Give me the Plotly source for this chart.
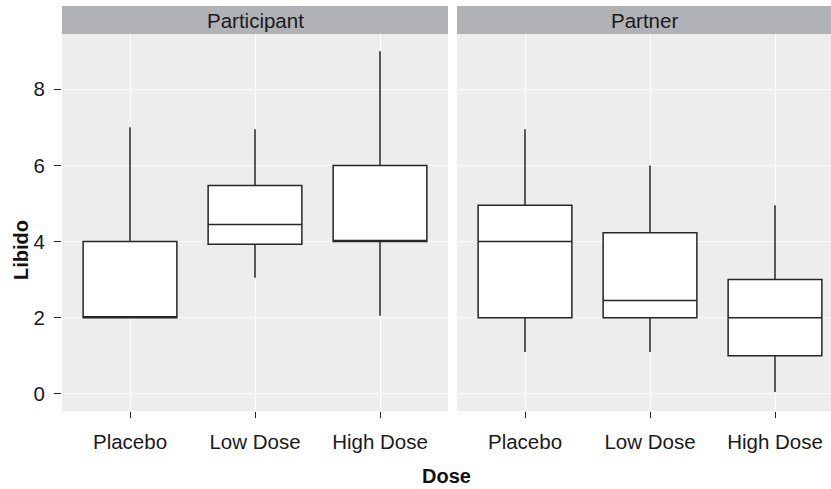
import plotly.graph_objects as go

doses = ["Placebo", "Low Dose", "High Dose"]
panels = ["Participant", "Partner"]

# five-number summaries
part_low = [2.0, 3.05, 2.05]
part_q1 = [2.0, 3.93, 4.0]
part_med = [2.0, 4.45, 4.0]
part_q3 = [4.0, 5.47, 6.0]
part_high = [7.0, 6.95, 9.0]

partner_low = [1.1, 1.1, 0.05]
partner_q1 = [2.0, 2.0, 1.0]
partner_med = [4.0, 2.45, 2.0]
partner_q3 = [4.95, 4.23, 3.0]
partner_high = [6.95, 6.0, 4.95]

y_ticks = [0, 2, 4, 6, 8]

W, H = 831, 489
ML, MR, MT, MB = 62, 0, 34, 78
plot_w = W - ML - MR
panel_px = 386
gap_px = 9
px_per_unit = panel_px / 3.088
x0_lo = -0.544
x1_right = x0_lo + (plot_w - panel_px - gap_px) / px_per_unit

fig = go.Figure()
font = "Liberation Sans, Arial, Helvetica, sans-serif"
line_col = "#262626"

for i, (lo, q1, md, q3, hi) in enumerate([
    (part_low, part_q1, part_med, part_q3, part_high),
    (partner_low, partner_q1, partner_med, partner_q3, partner_high),
]):
    fig.add_trace(go.Box(
        x=doses, q1=q1, median=md, q3=q3, lowerfence=lo, upperfence=hi,
        xaxis="x" if i == 0 else "x2", yaxis="y" if i == 0 else "y2",
        fillcolor="white", line=dict(color=line_col, width=1.5),
        width=0.75, whiskerwidth=0, boxpoints=False, showlegend=False,
        hoverinfo="skip",
    ))

d1 = panel_px / plot_w
d2 = (panel_px + gap_px) / plot_w
common_x = dict(
    type="category", categoryorder="array", categoryarray=doses,
    showgrid=True, gridcolor="white", gridwidth=1.2, zeroline=False,
    ticks="outside", ticklen=6, tickcolor=line_col, tickwidth=1.2,
    tickfont=dict(family=font, size=20.5, color="#1a1a1a"),
    showline=False, ticklabelstandoff=6,
)
common_y = dict(
    range=[-0.45, 9.45], tickvals=y_ticks, showgrid=True, gridcolor="white",
    gridwidth=1.2, zeroline=False, showline=False,
)
fig.update_layout(
    width=W, height=H,
    margin=dict(l=ML, r=MR, t=MT, b=MB),
    paper_bgcolor="white", plot_bgcolor="#ededed",
    xaxis=dict(domain=[0, d1], range=[x0_lo, 3 - 1 - x0_lo], **common_x),
    xaxis2=dict(domain=[d2, 1], range=[x0_lo, x1_right], anchor="y2", **common_x),
    yaxis=dict(domain=[0, 1], ticks="outside", ticklen=7, tickcolor=line_col,
               tickwidth=1.2, ticklabelstandoff=5,
               tickfont=dict(family=font, size=20.5, color="#1a1a1a"), **common_y),
    yaxis2=dict(domain=[0, 1], anchor="x2", matches="y", showticklabels=False,
                ticks="", **common_y),
)

strip_h = 28 / (H - MT - MB)
for i, (name, dom) in enumerate(zip(panels, [[0, d1], [d2, 1]])):
    fig.add_shape(type="rect", xref="paper", yref="paper",
                  x0=dom[0], x1=dom[1], y0=1, y1=1 + strip_h,
                  fillcolor="#b1b2b5", line=dict(width=0), layer="below")
    fig.add_annotation(text=name, xref="paper", yref="paper",
                       x=(dom[0] + dom[1]) / 2, y=1 + strip_h / 2,
                       showarrow=False, xanchor="center", yanchor="middle",
                       font=dict(family=font, size=20.5, color="#1a1a1a"))

fig.add_annotation(text="<b>Dose</b>", xref="paper", yref="paper",
                   x=0.5, y=-(476 - 411) / (H - MT - MB), showarrow=False,
                   xanchor="center", yanchor="middle",
                   font=dict(family=font, size=20, color="#111111"))
fig.add_annotation(text="<b>Libido</b>", xref="paper", yref="paper",
                   x=-(62 - 21) / plot_w, y=(411 - 250) / (H - MT - MB),
                   showarrow=False, textangle=-90, xanchor="center", yanchor="middle",
                   font=dict(family=font, size=20, color="#111111"))

fig.write_html("out.html", config={"displayModeBar": False},
               post_script="document.body.style.margin='0';")
